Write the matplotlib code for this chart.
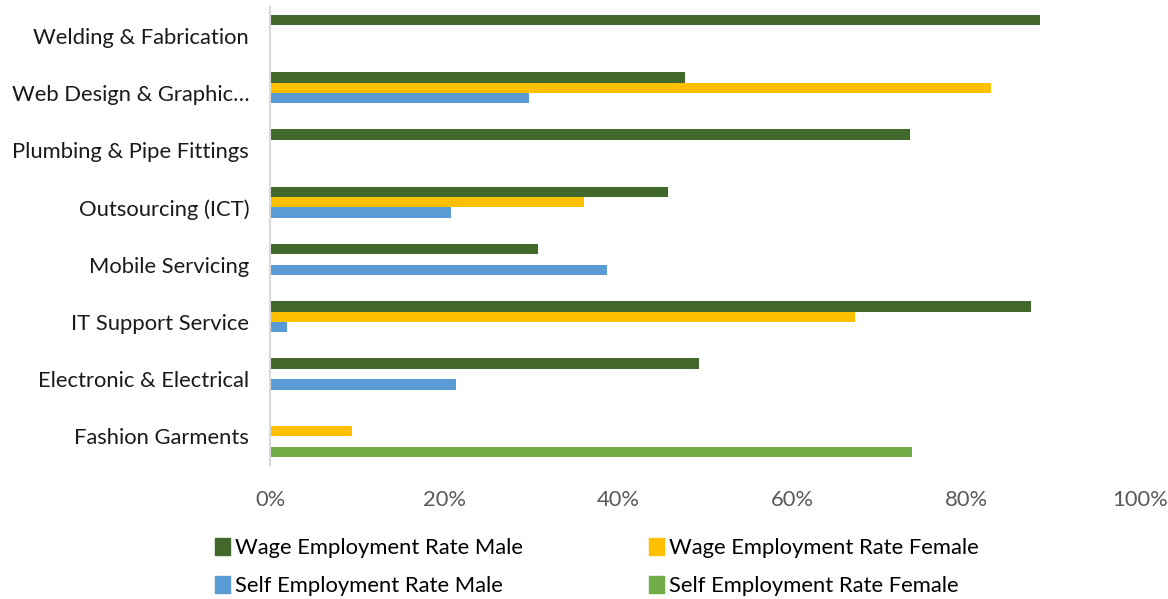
import numpy as np
import matplotlib.pyplot as plt
from matplotlib.patches import Patch
from matplotlib.ticker import PercentFormatter

plt.rcParams['font.family'] = ['Lato', 'DejaVu Sans']

categories = ['Welding & Fabrication', 'Web Design & Graphic…', 'Plumbing & Pipe Fittings',
              'Outsourcing (ICT)', 'Mobile Servicing', 'IT Support Service',
              'Electronic & Electrical', 'Fashion Garments']
wage_male = [88.5, 47.7, 73.6, 45.7, 30.8, 87.5, 49.3, 0]
wage_female = [0, 82.9, 0, 36.1, 0, 67.2, 0, 9.4]
self_male = [0, 29.8, 0, 20.8, 38.7, 2.0, 21.4, 0]
self_female = [0, 0, 0, 0, 0, 0, 0, 73.8]

series = [
    ('Wage Employment Rate Male', wage_male, '#43682b'),
    ('Wage Employment Rate Female', wage_female, '#ffc000'),
    ('Self Employment Rate Male', self_male, '#5b9bd5'),
    ('Self Employment Rate Female', self_female, '#70ad47'),
]

fig = plt.figure(figsize=(11.68, 5.99), dpi=100)
ax = fig.add_axes([0.2312, 0.2237, 0.976 - 0.2312, 0.988 - 0.2237])

y = np.arange(len(categories))
h = 0.182
for i, (name, vals, col) in enumerate(series):
    ax.barh(y + (i - 1.5) * h, vals, height=h, color=col, label=name)

ax.set_ylim(len(categories) - 0.5, -0.5)
ax.set_xlim(0, 100)
ax.set_xticks([0, 20, 40, 60, 80, 100])
ax.xaxis.set_major_formatter(PercentFormatter(decimals=0))
ax.set_yticks(y)
ax.set_yticklabels(categories, fontsize=15.8, color='#1a1a1a')
ax.tick_params(axis='x', labelsize=15.8, labelcolor='#595959', length=0, pad=18)
ax.tick_params(axis='y', length=0, pad=15)

for s in ['top', 'right', 'bottom']:
    ax.spines[s].set_visible(False)
ax.spines['left'].set_color('#d9d9d9')
ax.spines['left'].set_linewidth(1.5)

# legend reads row by row: wage male | wage female, self male | self female
order = [0, 2, 1, 3]
handles = [Patch(color=series[k][2], label=series[k][0]) for k in order]
fig.legend(handles=handles, ncol=2, loc='center', bbox_to_anchor=(0.511, 0.053),
           frameon=False, fontsize=15.8, handlelength=0.7, handleheight=0.8,
           handletextpad=0.25, columnspacing=5.7, labelspacing=0.8)

fig.savefig('out.png', dpi=100)
